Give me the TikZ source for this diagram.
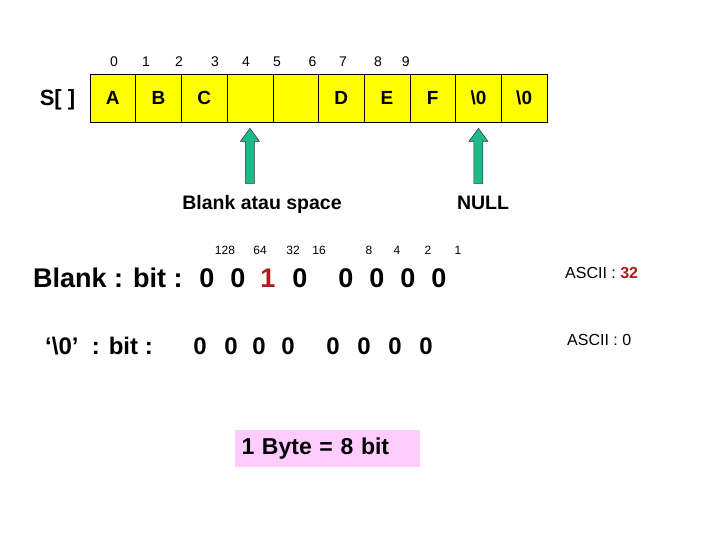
\documentclass[tikz,border=0pt]{standalone}
\usepackage{fontspec}
\setmainfont{Liberation Sans}
\usetikzlibrary{positioning,calc}
\definecolor{cellcol}{HTML}{FFFF00}
\definecolor{arrcol}{HTML}{1DB98A}
\definecolor{bitred}{HTML}{B01C1C}
\definecolor{bytecol}{HTML}{FFCCFF}

\begin{document}
\begin{tikzpicture}[
   x=1pt,y=-1pt,
   cell/.style={draw=black,fill=cellcol,line width=0.6pt,minimum width=45.7pt,
                minimum height=48pt,inner sep=0pt,
                font=\bfseries\fontsize{19}{19}\selectfont},
   idx/.style={anchor=base,inner sep=0pt,font=\fontsize{14}{14}\selectfont},
   lbl/.style={anchor=base,inner sep=0pt,font=\bfseries\fontsize{19.5}{19.5}\selectfont},
   wgt/.style={anchor=base,inner sep=0pt,font=\fontsize{12}{12}\selectfont},
   bitA/.style={anchor=base,inner sep=0pt,font=\bfseries\fontsize{27}{27}\selectfont},
   bitB/.style={anchor=base,inner sep=0pt,font=\bfseries\fontsize{24}{24}\selectfont},
   ascii/.style={anchor=base west,inner sep=0pt,font=\fontsize{16}{16}\selectfont},
   uparrow/.style={fill=arrcol,draw=black!80,line width=0.5pt},
]
\useasboundingbox (0,0) rectangle (720,540);

% array cells
\foreach \ch [count=\i from 0] in {A,B,C,{},{},D,E,F,\textbackslash 0,\textbackslash 0}
  \node[cell] (c\i) at ({112.85+45.7*\i},98) {\ch};
\node[anchor=base,inner sep=0pt,font=\bfseries\fontsize{22}{22}\selectfont]
      (arr) at (57.5,106) {S[ ]};

% index numbers
\foreach \x [count=\n from 0] in {114,146,179,215,246,277,312.6,343,378,405.7}
  \node[idx] (i\n) at (\x,67) {\n};

% pointer arrows
\foreach \c in {c3,c8}
  \draw[uparrow] ($(\c.south)+(0,6)$) -- ++(9.5,13) -- ++(-5,0) -- ++(0,42)
        -- ++(-9,0) -- ++(0,-42) -- ++(-5,0) -- cycle;
\node[lbl] (blank) at (262,210) {Blank atau space};
\node[lbl] (null)  at (483,210) {NULL};

% bit weights
\foreach \x/\w [count=\n] in {225/128,260/64,293/32,319/16,369/8,397/4,428/2,458/1}
  \node[wgt] (w\n) at (\x,254.3) {\w};

% blank row
\node[bitA,anchor=base west] (rowA) at (33,287.7) {Blank : bit :};
\foreach \x/\b [count=\n] in {207/0,238/0,268/{\color{bitred}1},300/0,346/0,377/0,408/0,439/0}
  \node[bitA] (a\n) at (\x,287.7) {\b};
\node[ascii] (asA) at (565,278.7) {ASCII : \textbf{\color{bitred}32}};

% null row
\node[bitB,anchor=base west] (rowB) at (45,354.6) {‘\textbackslash 0’\ \ : bit :};
\foreach \x [count=\n] in {200,231,259,288,333,364,395,426}
  \node[bitB] (b\n) at (\x,354.6) {0};
\node[ascii] (asB) at (567,345.7) {ASCII : 0};

% byte note
\node[fill=bytecol,text width=172pt,minimum height=37pt,inner xsep=6.5pt,
      inner ysep=0pt,align=left,font=\bfseries\fontsize{23}{23}\selectfont]
      (byte) at (327.5,448.5) {1 Byte = 8 bit};

\end{tikzpicture}
\end{document}
